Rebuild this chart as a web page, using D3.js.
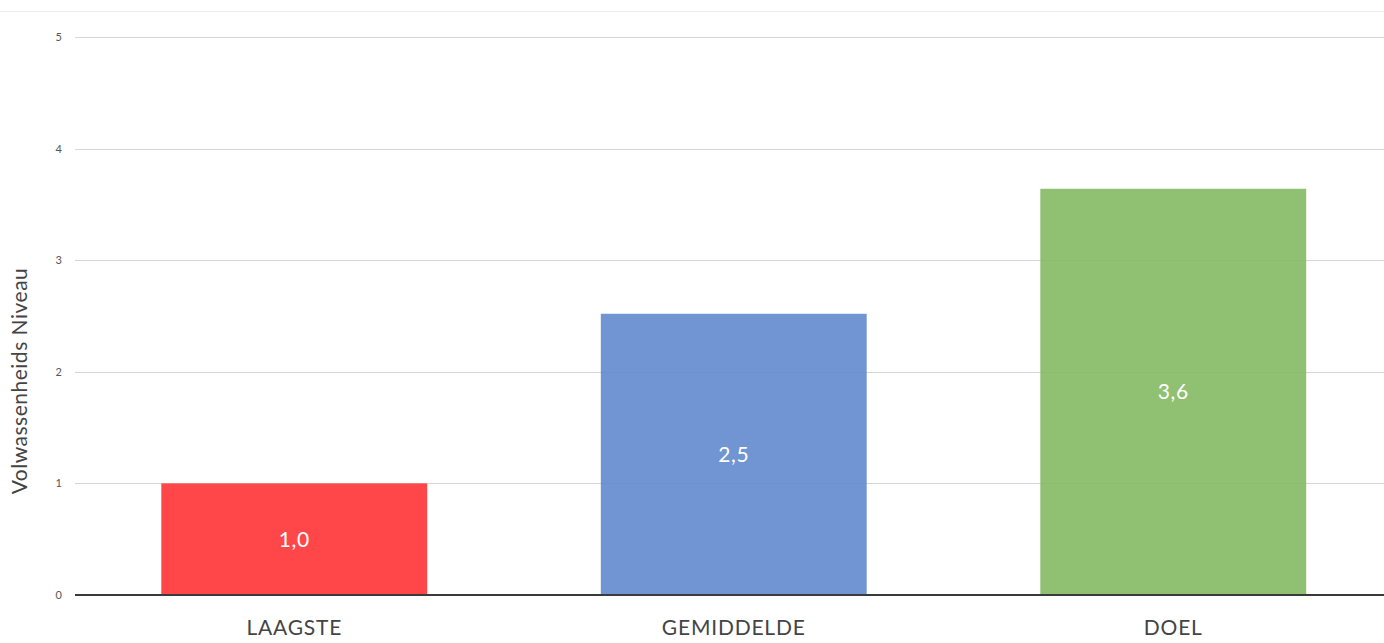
<!DOCTYPE html>
<html lang="en">
<head>
<meta charset="UTF-8">
<title>Volwassenheids Niveau</title>
<script src="https://cdnjs.cloudflare.com/ajax/libs/d3/7.8.5/d3.min.js"></script>
<style>
  body { margin: 0; background: #fff; font-family: Lato, "Open Sans", sans-serif; }
  .grid line { stroke: #d6d6d6; stroke-width: 1.2; }
  .tick text { fill: #555; }
</style>
</head>
<body>
<script>
// chart data
var categories = ['LAAGSTE', 'GEMIDDELDE', 'DOEL'];
var values = [1.0, 2.52, 3.64];
var valueLabels = ['1,0', '2,5', '3,6'];
var barColors = ['#ff3336', '#6289cd', '#84b963'];
var yTicks = [0, 1, 2, 3, 4, 5];

var W = 1384, H = 643;
var svg = d3.select('body').append('svg').attr('width', W).attr('height', H);

// thin top border line
svg.append('line').attr('x1', 0).attr('x2', W).attr('y1', 11.5).attr('y2', 11.5)
   .attr('stroke', '#ececec').attr('stroke-width', 1);

var y = d3.scaleLinear().domain([0, 5]).range([595, 37]);
var x = d3.scaleBand().domain(categories).range([74.5, 1393]).paddingInner(0.395).paddingOuter(0.1975);

// gridlines
svg.append('g').attr('class', 'grid')
   .selectAll('line').data(yTicks.filter(d => d > 0)).enter().append('line')
   .attr('x1', 75).attr('x2', W)
   .attr('y1', d => Math.round(y(d)) + 0.5).attr('y2', d => Math.round(y(d)) + 0.5);

// y axis tick labels
var yAxis = d3.axisLeft(y).tickValues(yTicks).tickSize(0).tickPadding(0).tickFormat(d3.format('d'));
svg.append('g').attr('transform', 'translate(62,0)').call(yAxis)
   .call(g => g.select('.domain').remove())
   .selectAll('text').style('font-size', '11px').style('font-family', 'Lato, sans-serif');

// bars
svg.selectAll('rect.bar').data(values).enter().append('rect')
   .attr('class', 'bar')
   .attr('x', (d, i) => x(categories[i]))
   .attr('width', x.bandwidth())
   .attr('y', d => y(d))
   .attr('height', d => y(0) - y(d))
   .attr('fill', (d, i) => barColors[i])
   .attr('fill-opacity', 0.9);

// value labels
svg.selectAll('text.val').data(values).enter().append('text')
   .attr('class', 'val')
   .attr('x', (d, i) => x(categories[i]) + x.bandwidth() / 2)
   .attr('y', d => (y(d) + y(0)) / 2)
   .attr('dy', '0.36em')
   .attr('text-anchor', 'middle')
   .attr('fill', '#fff')
   .style('font-size', '21px')
   .style('letter-spacing', '0.6px')
   .text((d, i) => valueLabels[i]);

// baseline
svg.append('line').attr('x1', 75).attr('x2', W).attr('y1', 595).attr('y2', 595)
   .attr('stroke', '#3a3a3a').attr('stroke-width', 2);

// x axis labels
var xAxis = d3.axisBottom(x).tickSize(0).tickPadding(0);
svg.append('g').attr('transform', 'translate(0,627)').call(xAxis)
   .call(g => g.select('.domain').remove())
   .selectAll('text').attr('dy', '0.36em').attr('y', 0)
   .style('font-size', '21px').style('letter-spacing', '0.8px')
   .style('fill', '#444').style('font-family', 'Lato, sans-serif');

// y axis title
svg.append('text')
   .attr('transform', 'translate(27,381) rotate(-90)')
   .attr('text-anchor', 'middle')
   .attr('fill', '#444')
   .style('font-size', '21px')
   .style('letter-spacing', '0.5px')
   .text('Volwassenheids Niveau');
</script>
</body>
</html>
